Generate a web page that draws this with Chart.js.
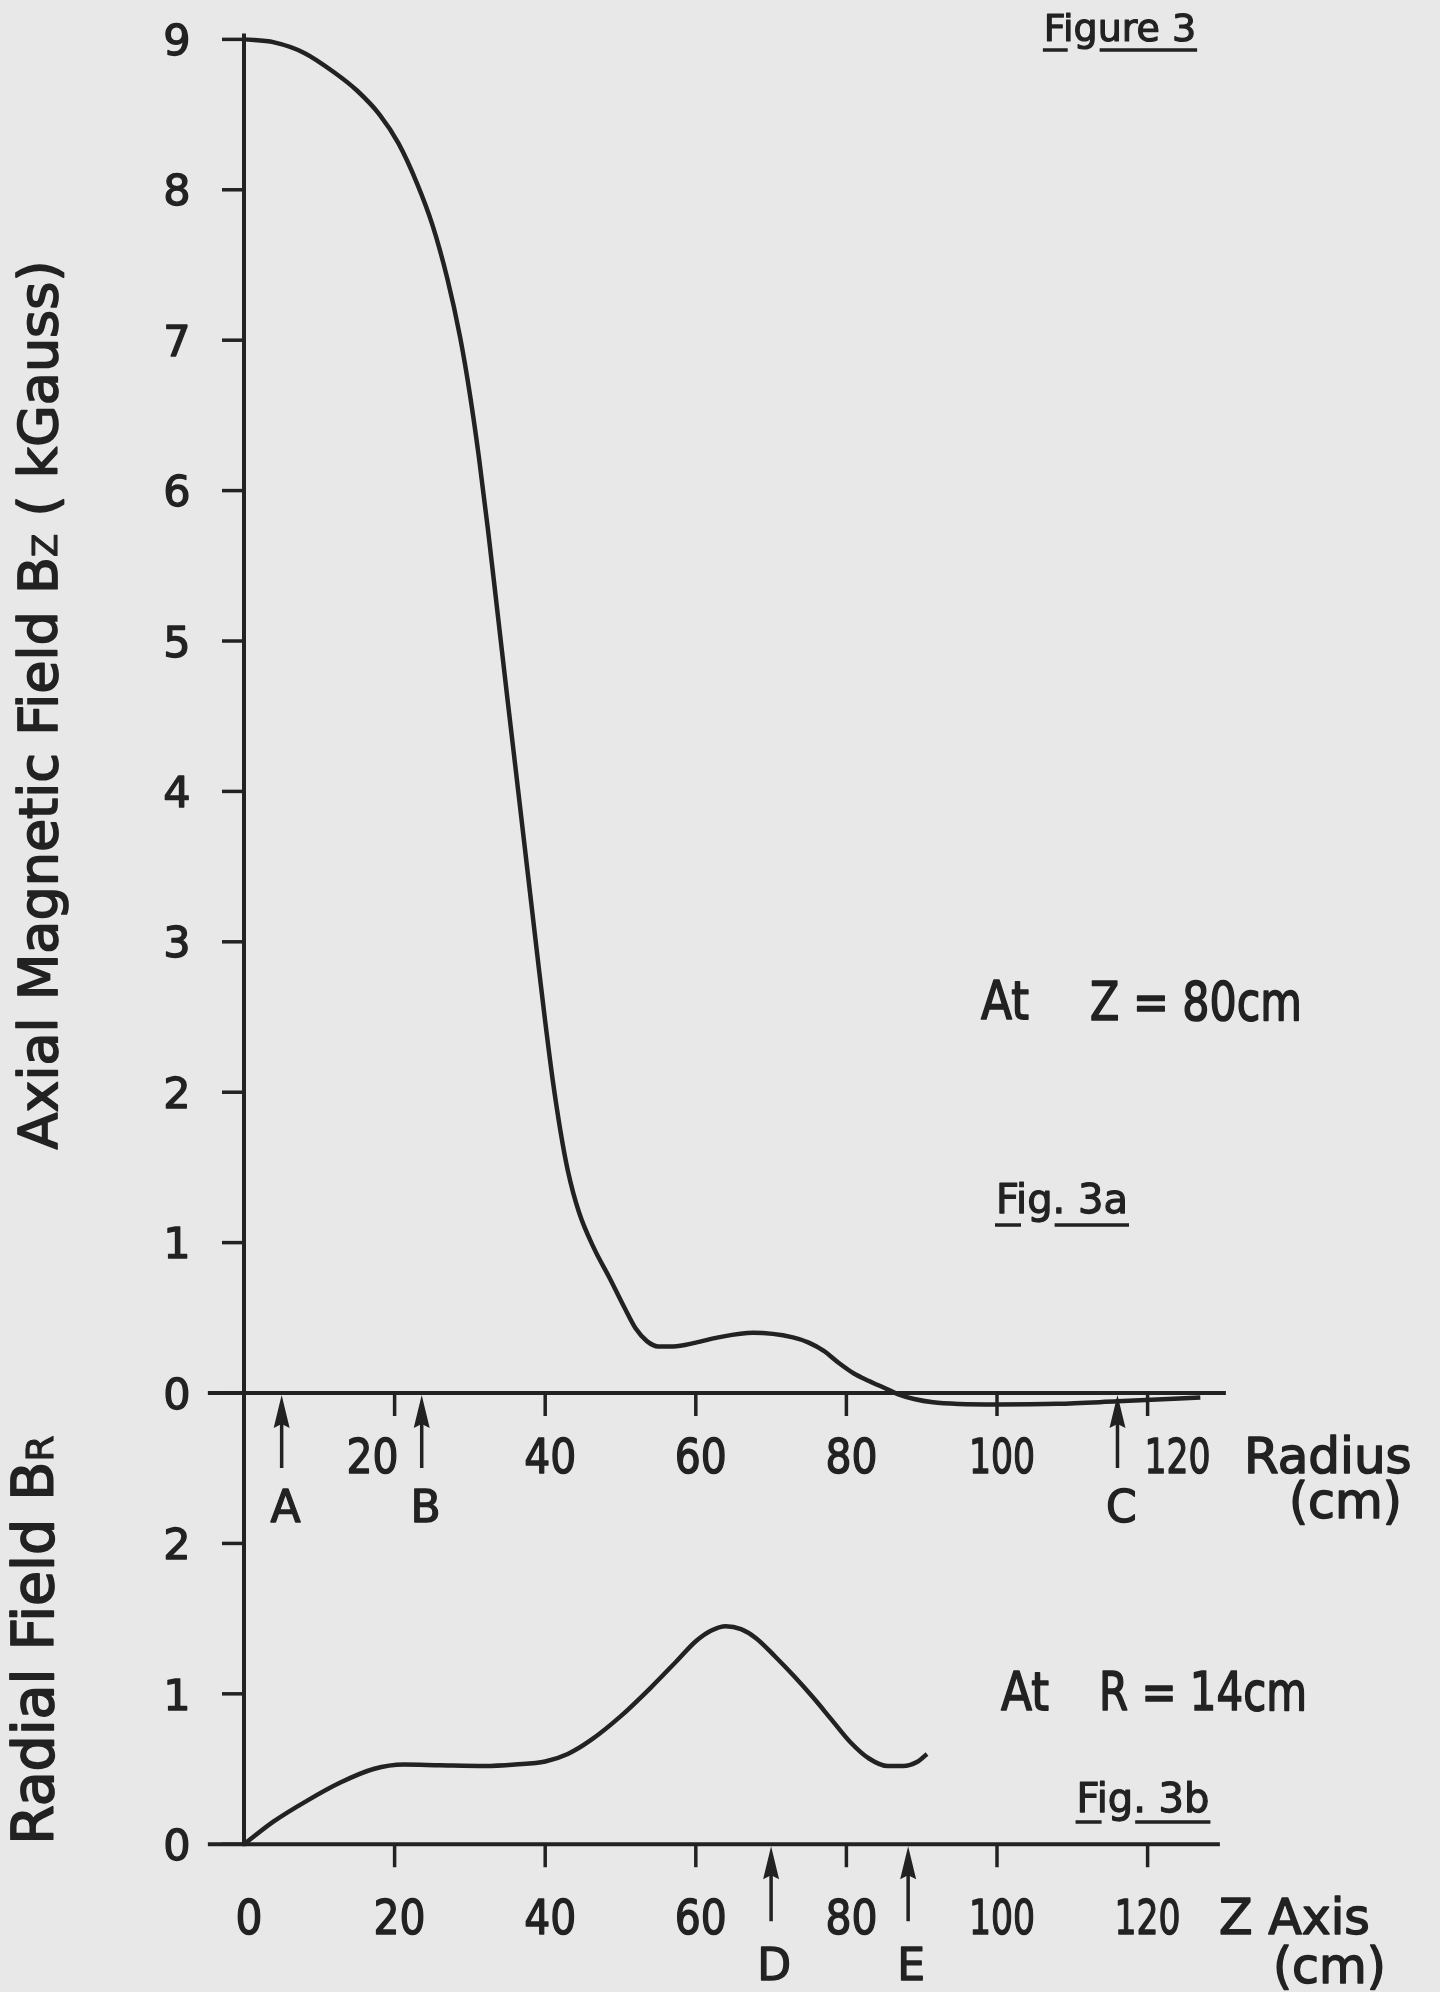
<!DOCTYPE html>
<html>
<head>
<meta charset="utf-8">
<script src="https://cdn.jsdelivr.net/npm/chart.js@4.4.1/dist/chart.umd.min.js"></script>
<style>
  html, body { margin: 0; padding: 0; background: #e8e8e8; }
  #wrap { position: relative; width: 1440px; height: 1992px; }
</style>
</head>
<body>
<div id="wrap"><canvas id="fig3" width="1440" height="1992"></canvas></div>
<script>
// Fig. 3a : axial field Bz (kGauss) against radius (cm), at Z = 80 cm
const radiusCm = [0, 4, 8, 12, 15, 18, 20.5, 23, 25, 27, 28.7, 30, 31.2, 32.4, 33.6, 35, 36.4, 37.7, 39, 40, 41, 42, 43, 44.5, 46.5, 48.5, 50.5, 52, 53.5, 55, 57, 60, 63, 67.6, 72.9, 75, 77, 79, 81, 83, 85, 87, 89, 91.5, 95, 100, 108, 116, 127];
const axialBz = [9.0, 8.98, 8.91, 8.78, 8.66, 8.5, 8.31, 8.04, 7.77, 7.41, 7.02, 6.64, 6.22, 5.74, 5.22, 4.61, 4.01, 3.45, 2.89, 2.47, 2.08, 1.75, 1.48, 1.2, 0.96, 0.77, 0.57, 0.43, 0.345, 0.31, 0.31, 0.335, 0.37, 0.4, 0.37, 0.335, 0.28, 0.2, 0.13, 0.08, 0.035, -0.01, -0.04, -0.062, -0.073, -0.076, -0.072, -0.055, -0.03];

// Fig. 3b : radial field BR against the Z axis (cm), at R = 14 cm
const zAxisCm = [0, 3.9, 8.4, 12.8, 17.2, 21.2, 26, 32, 36, 40, 43, 46, 50, 54, 57.5, 60, 62, 64, 66, 68, 70.5, 73, 75.5, 78, 80.5, 83, 85.5, 87.5, 89.5, 90.7];
const radialBr = [0, 0.15, 0.29, 0.41, 0.5, 0.53, 0.525, 0.52, 0.53, 0.55, 0.6, 0.69, 0.85, 1.04, 1.22, 1.35, 1.42, 1.45, 1.43, 1.37, 1.25, 1.12, 0.98, 0.83, 0.68, 0.57, 0.52, 0.52, 0.55, 0.6];

// axis ticks and the lettered positions marked with arrows
const tickCm = [20, 40, 60, 80, 100, 120];
const bzTicks = [0, 1, 2, 3, 4, 5, 6, 7, 8, 9];
const brTicks = [0, 1, 2];
const radiusMarkers = ['A', 'B', 'C'];
const radiusMarkerCm = [5, 23.6, 116];
const zMarkers = ['D', 'E'];
const zMarkerCm = [70, 88.2];

const INK = '#222';
const FONT = '"DejaVu Sans", "Liberation Sans", sans-serif';

function line(ctx, x1, y1, x2, y2) {
    ctx.beginPath();
    ctx.moveTo(x1, y1);
    ctx.lineTo(x2, y2);
    ctx.stroke();
}

// lettering is a bit heavier than the regular face, so stroke it too
function text(ctx, str, x, base, size, maxW, align) {
    ctx.font = size + 'px ' + FONT;
    ctx.textAlign = align || 'center';
    ctx.textBaseline = 'alphabetic';
    ctx.lineWidth = size / 32;
    ctx.lineJoin = 'round';
    if (maxW) {
        ctx.fillText(str, x, base, maxW);
        ctx.strokeText(str, x, base, maxW);
    } else {
        ctx.fillText(str, x, base);
        ctx.strokeText(str, x, base);
    }
}

// caption like "Fig. 3a" with the broken underline of the original
function caption(ctx, str, cx, base, size, lineY) {
    ctx.font = size + 'px ' + FONT;
    const w = ctx.measureText(str).width;
    const wF = ctx.measureText(str[0]).width;
    const wFig = ctx.measureText(str.slice(0, 3)).width;
    text(ctx, str, cx, base, size);
    const left = cx - w / 2;
    ctx.lineWidth = 3.5;
    line(ctx, left - 1, lineY, left + wF + 2, lineY);
    line(ctx, left + wFig + 2, lineY, left + w + 1, lineY);
}

// rotated axis title; parts = [[text, size], ...]
function sideTitle(ctx, parts, baseX, cy) {
    let total = 0;
    parts.forEach(p => { ctx.font = p[1] + 'px ' + FONT; total += ctx.measureText(p[0]).width; });
    ctx.save();
    ctx.translate(baseX, cy);
    ctx.rotate(-Math.PI / 2);
    let pos = -total / 2;
    parts.forEach(p => {
        ctx.font = p[1] + 'px ' + FONT;
        ctx.textAlign = 'left';
        ctx.textBaseline = 'alphabetic';
        ctx.lineWidth = p[1] / 32;
        ctx.lineJoin = 'round';
        ctx.fillText(p[0], pos, 0);
        ctx.strokeText(p[0], pos, 0);
        pos += ctx.measureText(p[0]).width;
    });
    ctx.restore();
}

function arrow(ctx, px, tip, tail) {
    ctx.lineWidth = 3.5;
    line(ctx, px, tip + 20, px, tail);
    ctx.beginPath();
    ctx.moveTo(px, tip);
    ctx.lineTo(px - 8, tip + 33);
    ctx.lineTo(px, tip + 29);
    ctx.lineTo(px + 8, tip + 33);
    ctx.closePath();
    ctx.fill();
}

const figureAxes = {
    id: 'figureAxes',
    beforeDatasetsDraw(chart) {
        const ctx = chart.ctx;
        const {x, y, yb} = chart.scales;
        const x0 = x.getPixelForValue(0);
        ctx.save();
        ctx.strokeStyle = INK;
        ctx.lineWidth = 4;
        // one vertical axis shared by both panels
        line(ctx, x0, y.getPixelForValue(9) - 6, x0, yb.getPixelForValue(0) + 2);
        // the two horizontal axes
        line(ctx, x.getPixelForValue(-4.8), y.getPixelForValue(0), x.getPixelForValue(130.4), y.getPixelForValue(0));
        line(ctx, x.getPixelForValue(-4.8), yb.getPixelForValue(0), x.getPixelForValue(129.6), yb.getPixelForValue(0));

        ctx.lineWidth = 3.5;
        bzTicks.forEach(v => line(ctx, x0 - 22, y.getPixelForValue(v), x0, y.getPixelForValue(v)));
        brTicks.forEach(v => line(ctx, x0 - 22, yb.getPixelForValue(v), x0, yb.getPixelForValue(v)));
        tickCm.forEach(v => {
            const px = x.getPixelForValue(v);
            [y, yb].forEach(s => {
                const py = s.getPixelForValue(0);
                line(ctx, px, py, px, py + 23);
            });
        });
        ctx.restore();
    },
    afterDraw(chart) {
        const ctx = chart.ctx;
        const {x, y, yb} = chart.scales;
        const x0 = x.getPixelForValue(0);
        const yTop0 = y.getPixelForValue(0);
        const yBot0 = yb.getPixelForValue(0);
        ctx.save();
        ctx.fillStyle = INK;
        ctx.strokeStyle = INK;

        // y tick labels, centred on their ticks
        const ySize = 43;
        const cap = 0.729 * ySize;
        bzTicks.forEach(v => text(ctx, String(v), x0 - 67, y.getPixelForValue(v) + cap / 2, ySize));
        brTicks.forEach(v => text(ctx, String(v), x0 - 67, yb.getPixelForValue(v) + cap / 2, ySize));

        // radius axis labels (20 and 120 pushed aside by the arrows)
        const shiftTop = {20: -22, 120: 30};
        tickCm.forEach(v => {
            const s = String(v);
            text(ctx, s, x.getPixelForValue(v) + (shiftTop[v] !== undefined ? shiftTop[v] : 5), yTop0 + 80, 48, s.length === 3 ? 66 : 52);
        });
        text(ctx, 'Radius', 1244, yTop0 + 80, 50, null, 'left');
        text(ctx, '(cm)', 1289, yTop0 + 125, 49, null, 'left');

        // Z axis labels
        [0].concat(tickCm).forEach(v => {
            const s = String(v);
            text(ctx, s, x.getPixelForValue(v) + (v === 120 ? 0 : 5), yBot0 + 90, 48, s.length === 3 ? 66 : (s.length === 2 ? 52 : 27));
        });
        text(ctx, 'Z Axis', 1219, yBot0 + 90, 49, null, 'left');
        text(ctx, '(cm)', 1273, yBot0 + 139, 49, null, 'left');

        // lettered arrows
        radiusMarkerCm.forEach((v, i) => {
            const px = x.getPixelForValue(v);
            arrow(ctx, px, yTop0 + 2, yTop0 + 75);
            text(ctx, radiusMarkers[i], px + 4, yTop0 + 129, 44);
        });
        zMarkerCm.forEach((v, i) => {
            const px = x.getPixelForValue(v);
            arrow(ctx, px, yBot0 + 2, yBot0 + 77);
            text(ctx, zMarkers[i], px + 3, yBot0 + 136, 44);
        });

        // notes and captions
        text(ctx, 'At', 1005, 1019, 54, 48);
        text(ctx, 'Z = 80cm', 1196, 1020, 54, 212);
        caption(ctx, 'Fig. 3a', 1062, 1213, 40, 1225);
        text(ctx, 'At', 1025, 1710, 54, 48);
        text(ctx, 'R = 14cm', 1203, 1710, 54, 208);
        caption(ctx, 'Fig. 3b', 1143, 1812, 40, 1822);
        caption(ctx, 'Figure 3', 1120, 41, 38, 50);

        // side titles
        sideTitle(ctx, [['Axial Magnetic Field B', 54], ['Z', 34], [' ( kGauss)', 54]], 57, 705);
        sideTitle(ctx, [['Radial Field B', 57], ['R', 38]], 53, 1640);
        ctx.restore();
    }
};

const chart = new Chart(document.getElementById('fig3'), {
    type: 'line',
    data: {
        datasets: [
            {
                label: 'Bz at Z = 80 cm',
                data: radiusCm.map((r, i) => ({x: r, y: axialBz[i]})),
                yAxisID: 'y',
                borderColor: INK,
                borderWidth: 4.5,
                cubicInterpolationMode: 'monotone',
                fill: false,
            },
            {
                label: 'BR at R = 14 cm',
                data: zAxisCm.map((z, i) => ({x: z, y: radialBr[i]})),
                yAxisID: 'yb',
                borderColor: INK,
                borderWidth: 4.5,
                cubicInterpolationMode: 'monotone',
                fill: false,
            }
        ]
    },
    options: {
        responsive: false,
        animation: false,
        devicePixelRatio: 1,
        layout: {
            padding: {left: 168.7, right: 141.8, top: 9.3, bottom: 12.4}
        },
        scales: {
            x: {type: 'linear', min: -10, max: 140, display: false},
            y: {type: 'linear', axis: 'y', min: -3.9, max: 9.2, display: false},
            yb: {type: 'linear', axis: 'y', min: -0.9, max: 12.2, display: false},
        },
        elements: {
            point: {radius: 0},
        },
        plugins: {
            legend: {display: false},
            tooltip: {enabled: false},
        },
    },
    plugins: [figureAxes]
});
</script>
</body>
</html>
